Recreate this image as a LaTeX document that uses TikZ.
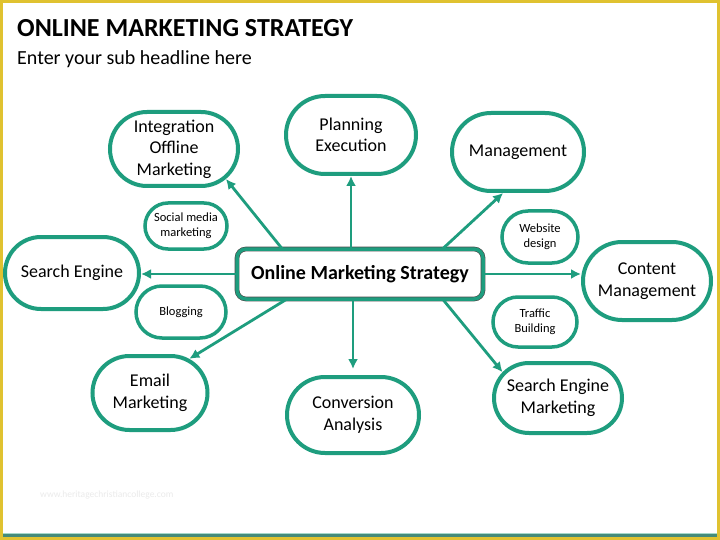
\documentclass[tikz,border=0pt]{standalone}
\usepackage{fontspec}
\setmainfont{Carlito}
\usetikzlibrary{arrows.meta,shapes.misc}
\definecolor{mkgreen}{RGB}{30,157,126}
\definecolor{frameyellow}{RGB}{224,194,48}
\tikzset{
  blob/.style={draw=mkgreen, line width=4pt, rounded rectangle, align=center, inner sep=0pt,
    font=\fontsize{18}{21.5}\selectfont},
  smallblob/.style={blob, line width=3.5pt, font=\fontsize{12.5}{15}\selectfont},
  hub/.style={draw=black!70, double=mkgreen, double distance=3.5pt, line width=0.6pt,
    rounded corners=9pt, minimum width=246pt, minimum height=50pt,
    font=\bfseries\fontsize{20}{24}\selectfont},
  arr/.style={draw=mkgreen, line width=2.8pt, -{Latex[length=10pt,width=10pt]}},
}
\begin{document}
\begin{tikzpicture}[x=1pt,y=-1pt]
\useasboundingbox (0,0) rectangle (720,540);
\fill[white] (0,0) rectangle (720,540);
% frame
\fill[frameyellow] (0,0) rectangle (720,3);
\fill[frameyellow] (0,0) rectangle (3,540);
\fill[frameyellow] (717,0) rectangle (720,540);
\fill[frameyellow] (0,537) rectangle (720,540);
\fill[mkgreen!70!black!80] (3,534) rectangle (717,537);
\fill[mkgreen!40] (3,533) rectangle (717,534);
% headings
\node[anchor=base west, inner sep=0pt, font=\bfseries\fontsize{26}{30}\selectfont] (title) at (17,37) {ONLINE MARKETING STRATEGY};
\node[anchor=base west, inner sep=0pt, font=\fontsize{20}{24}\selectfont] (subtitle) at (17,65) {Enter your sub headline here};
\node[anchor=base west, inner sep=0pt, text=black!8, font=\fontsize{9.5}{11}\selectfont] (mark) at (40,497) {www.heritagechristiancollege.com};
% hub
\node[hub] (hub) at (360,274) {Online Marketing Strategy};
% outer ovals
\node[blob, minimum width=128pt, minimum height=74pt] (integ) at (174,149) {Integration\\Offline\\Marketing};
\node[blob, minimum width=130pt, minimum height=78pt] (plan) at (351,135) {Planning\\Execution};
\node[blob, minimum width=132pt, minimum height=78pt] (manage) at (518,152) {Management};
\node[blob, minimum width=134pt, minimum height=72pt] (search) at (72,273) {Search Engine};
\node[blob, minimum width=128pt, minimum height=78pt] (content) at (647,281) {Content\\Management};
\node[blob, minimum width=115pt, minimum height=74pt] (email) at (150,393) {Email\\Marketing};
\node[blob, minimum width=132pt, minimum height=76pt] (conv) at (353,415) {Conversion\\Analysis};
\node[blob, minimum width=128pt, minimum height=70pt] (sem) at (558,398) {Search Engine\\Marketing};
% small ovals
\node[smallblob, minimum width=82pt, minimum height=46pt] (social) at (186,226) {Social media\\marketing};
\node[smallblob, minimum width=90pt, minimum height=52pt] (blog) at (181,312) {Blogging};
\node[smallblob, minimum width=76pt, minimum height=52pt] (web) at (540,237) {Website\\design};
\node[smallblob, minimum width=84pt, minimum height=50pt] (traffic) at (535,322) {Traffic\\Building};
% arrows
\draw[arr] (hub.162) -- (integ.-30);
\draw[arr] (plan.south |- hub.north) -- (plan.south);
\draw[arr] (hub.17) -- (manage.250);
\draw[arr] (hub.west) -- (hub.west -| search.east);
\draw[arr] (hub.east) -- (hub.east -| content.west);
\draw[arr] (hub.199) -- (email.41);
\draw[arr, shorten >=6pt] (conv.north |- hub.south) -- (conv.north);
\draw[arr] (hub.-17) -- (sem.155);
\end{tikzpicture}
\end{document}
